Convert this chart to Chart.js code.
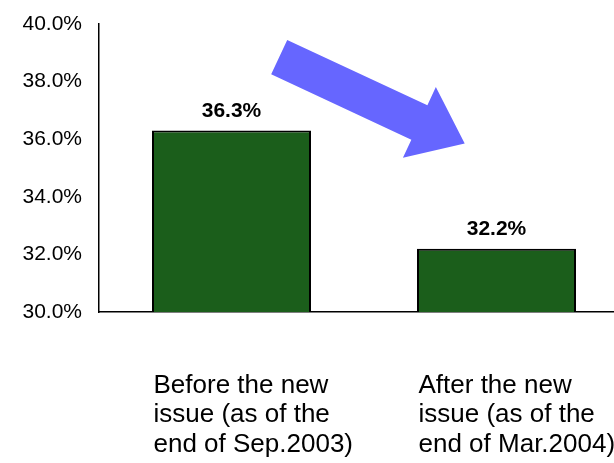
<!DOCTYPE html>
<html lang="en">
<head>
    <meta charset="UTF-8">
    <title>Ratio before and after the new issue</title>
    <script src="https://cdn.jsdelivr.net/npm/chart.js"></script>
    <style>
        html, body { margin: 0; padding: 0; background: #fff; }
        .frame { width: 614px; height: 463px; overflow: hidden; }
        .inner { position: relative; width: 640px; height: 463px; }
    </style>
</head>
<body>
    <div class="frame">
        <div class="inner">
            <canvas id="ratioChart"></canvas>
        </div>
    </div>

    <script>
        // Chart data
        const categories = [
            ['Before the new', 'issue (as of the', 'end of Sep.2003)'],
            ['After the new', 'issue (as of the', 'end of Mar.2004)']
        ];
        const ratios = [36.3, 32.2];
        const yTickValues = [30, 32, 34, 36, 38, 40];

        // Big blue arrow, expressed in axis units (category index, percent)
        const arrowFrom = { x: 0.18, y: 38.85 };
        const arrowTo = { x: 0.88, y: 35.85 };

        const FONT = "'Liberation Sans', Arial, sans-serif";

        const valueLabels = {
            id: 'valueLabels',
            afterDatasetsDraw(chart) {
                const ctx = chart.ctx;
                const meta = chart.getDatasetMeta(0);
                ctx.save();
                ctx.font = 'bold 21px ' + FONT;
                ctx.fillStyle = '#000';
                ctx.textAlign = 'center';
                ctx.textBaseline = 'alphabetic';
                meta.data.forEach((bar, i) => {
                    ctx.fillText(ratios[i].toFixed(1) + '%', bar.x, bar.y - 14);
                });
                ctx.restore();
            }
        };

        const bigArrow = {
            id: 'bigArrow',
            afterDraw(chart) {
                const xs = chart.scales.x, ys = chart.scales.y;
                const x0 = xs.getPixelForValue(arrowFrom.x), y0 = ys.getPixelForValue(arrowFrom.y);
                const x1 = xs.getPixelForValue(arrowTo.x), y1 = ys.getPixelForValue(arrowTo.y);
                const len = Math.hypot(x1 - x0, y1 - y0);
                const ang = Math.atan2(y1 - y0, x1 - x0);
                const shaft = 19, head = 39, headLen = 50;
                const ctx = chart.ctx;
                ctx.save();
                ctx.translate(x0, y0);
                ctx.rotate(ang);
                ctx.beginPath();
                ctx.moveTo(0, -shaft);
                ctx.lineTo(len - headLen, -shaft);
                ctx.lineTo(len - headLen, -head);
                ctx.lineTo(len, 0);
                ctx.lineTo(len - headLen, head);
                ctx.lineTo(len - headLen, shaft);
                ctx.lineTo(0, shaft);
                ctx.closePath();
                ctx.fillStyle = '#6666FF';
                ctx.fill();
                ctx.restore();
            }
        };

        const ctx = document.getElementById('ratioChart').getContext('2d');
        new Chart(ctx, {
            type: 'bar',
            data: {
                labels: categories,
                datasets: [{
                    data: ratios,
                    backgroundColor: '#1B5E1B',
                    borderColor: '#000',
                    borderWidth: 2,
                    borderSkipped: 'bottom',
                    barPercentage: 0.6,
                    categoryPercentage: 1.0
                }]
            },
            options: {
                responsive: true,
                maintainAspectRatio: false,
                animation: false,
                layout: { padding: { top: 24, right: 11, left: 0, bottom: 0 } },
                plugins: {
                    legend: { display: false },
                    tooltip: { enabled: false }
                },
                scales: {
                    x: {
                        grid: { display: false, drawTicks: false },
                        border: { display: true, color: '#000', width: 1.5 },
                        afterFit(scale) {
                            // labels run off the right edge on purpose
                            scale.height = 151;
                            scale.paddingLeft = 0;
                            scale.paddingRight = 0;
                        },
                        ticks: {
                            autoSkip: false,
                            maxRotation: 0,
                            align: 'start',
                            labelOffset: -78,
                            padding: 59,
                            color: '#000',
                            font: { family: FONT, size: 26, lineHeight: 1.135 }
                        }
                    },
                    y: {
                        min: 30,
                        max: 40,
                        grid: { display: false, drawTicks: false },
                        border: { display: true, color: '#000', width: 1.5 },
                        afterFit(scale) {
                            scale.width = 99;
                            scale.paddingTop = 0;
                            scale.paddingBottom = 0;
                        },
                        afterBuildTicks(scale) {
                            scale.ticks = yTickValues.map(v => ({ value: v }));
                        },
                        ticks: {
                            padding: 17,
                            color: '#000',
                            font: { family: FONT, size: 21 },
                            callback: v => v.toFixed(1) + '%'
                        }
                    }
                }
            },
            plugins: [valueLabels, bigArrow]
        });
    </script>
</body>
</html>
